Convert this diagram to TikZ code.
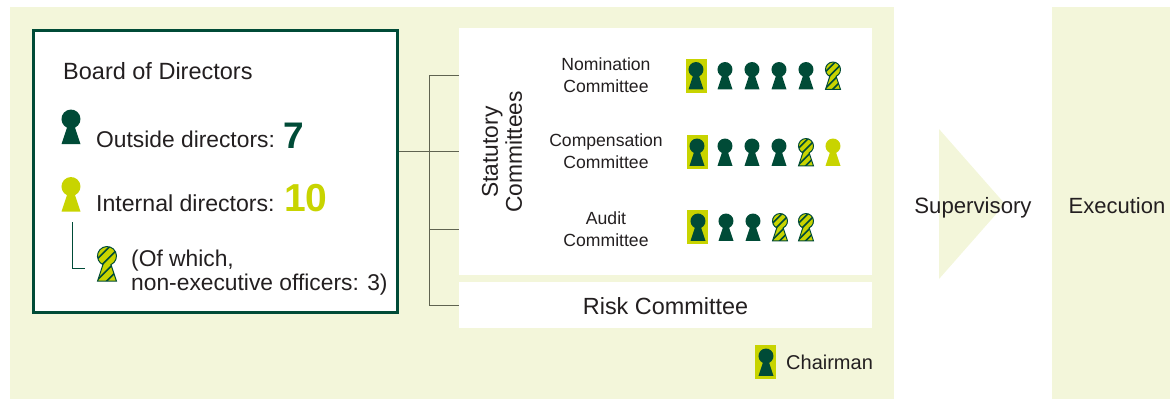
\documentclass[tikz,border=0pt]{standalone}
\usepackage{fontspec}
\setmainfont{Liberation Sans}
\usetikzlibrary{positioning}
\definecolor{paleg}{HTML}{F3F6DA}
\definecolor{darkg}{HTML}{004B37}
\definecolor{limeg}{HTML}{C8D400}
\definecolor{inkg}{HTML}{231F20}
\definecolor{busg}{HTML}{5F6350}
\tikzset{panel/.style = {fill = paleg, draw = none, inner sep = 0, anchor = north west}}
\tikzset{whitebox/.style = {fill = white, draw = none, inner sep = 0, anchor = north west}}
\tikzset{chairbox/.style = {fill = limeg, draw = none, inner sep = 0, minimum width = 21, minimum height = 34}}
\tikzset{txt/.style = {text = inkg, inner sep = 0, font = \fontsize{22.8}{24}\selectfont}}
\tikzset{smalltxt/.style = {text = inkg, inner sep = 0, align = center, font = \fontsize{17.6}{21.5}\selectfont}}
\tikzset{bus/.style = {draw = busg, line width = 0.9}}
\tikzset{keyhole/.pic = {
    \path [pic actions] (0.42, 0.91) arc [start angle = 65, end angle = -245, radius = 1]
      -- (-1, 2.65) -- (1, 2.65) -- cycle;
}}
\tikzset{outsidedir/.style = {fill = darkg}}
\tikzset{internaldir/.style = {fill = limeg}}
\tikzset{mixeddir/.style = {fill = limeg, draw = darkg, line width = 1,
    path picture = {\foreach \k in {-4, -2.9, ..., 4}
      {\draw [darkg, line width = 1.6] (-2, \k + 2) -- (2, \k - 2);}}}}
\begin{document}
\begin{tikzpicture}[x = 1pt, y = -1pt]
    \useasboundingbox (0, 0) rectangle (1170, 399);
    \node (governance) at (10, 7) [panel, minimum width = 884, minimum height = 392] {};
    \node (execpanel) at (1052, 7) [panel, minimum width = 118, minimum height = 392] {};
    \fill [paleg] (939, 129) -- (1005, 204) -- (939, 279) -- cycle;
    \node (board) at (32, 29) [anchor = north west, draw = darkg, fill = white, line width = 2.7,
      inner sep = 0, minimum width = 364, minimum height = 282] {};
    \node (statutory) at (459, 28) [whitebox, minimum width = 413, minimum height = 247] {};
    \node (risk) at (459, 282) [whitebox, minimum width = 413, minimum height = 46] {};
    % connectors
    \coordinate (joint) at (429, 151);
    \coordinate (busa) at (429, 75);
    \coordinate (busb) at (429, 229);
    \coordinate (busc) at (429, 305);
    \draw [bus] (board.east |- joint) -- (statutory.west |- joint);
    \draw [bus] (statutory.west |- busa) -- (busa) -- (busc) -- (risk.west |- busc);
    \draw [bus] (busb) -- (statutory.west |- busb);
    % board
    \node (boardtitle) at (63, 79) [txt, anchor = base west, font = \fontsize{23.5}{24}\selectfont] {Board of Directors};
    \pic [outsidedir, scale = 9.5] at (71, 119) {keyhole};
    \node (outside) at (96, 147) [txt, anchor = base west] {Outside directors:};
    \node (outsidenum) at (283, 148) [anchor = base west, inner sep = 0, text = darkg,
      font = \fontsize{37}{39}\selectfont\bfseries] {7};
    \pic [internaldir, scale = 9.5] at (71, 186.5) {keyhole};
    \node (internal) at (96, 211) [txt, anchor = base west, font = \fontsize{23.1}{24}\selectfont] {Internal directors:};
    \node (internalnum) at (284, 211) [anchor = base west, inner sep = 0, text = limeg,
      font = \fontsize{39}{39}\selectfont\bfseries] {10};
    \coordinate (subtop) at (72, 222);
    \coordinate (subend) at (85, 268);
    \draw [darkg, line width = 0.9] (subtop) |- (subend);
    \pic [mixeddir, scale = 9.5] at (107, 256) {keyhole};
    \node (ofwhich) at (131, 266) [txt, anchor = base west] {(Of which,};
    \node (nonexec) at (131, 290) [txt, anchor = base west] {non-executive officers: 3)};
    % committees
    \node (statlabel) at (502, 152) [txt, align = center, rotate = 90] {Statutory\\Committees};
    \node (nomination) at (606, 75) [smalltxt] {Nomination\\Committee};
    \node (compensation) at (606, 151) [smalltxt] {Compensation\\Committee};
    \node (audit) at (606, 229) [smalltxt] {Audit\\Committee};
    \node (risklabel) at (665.5, 306) [txt, font = \fontsize{23.4}{24}\selectfont] {Risk Committee};
    \node (chairnom) at (696.5, 75.5) [chairbox] {};
    \node (chaircomp) at (697, 152) [chairbox] {};
    \node (chairaudit) at (697.5, 227) [chairbox] {};
    \foreach \px/\kind in {696/outsidedir, 725/outsidedir, 752/outsidedir, 779/outsidedir, 806/outsidedir, 833/mixeddir}
      \pic [\kind, scale = 7.5] at (\px, 69.5) {keyhole};
    \foreach \px/\kind in {697/outsidedir, 725/outsidedir, 752/outsidedir, 779/outsidedir, 806/mixeddir, 833/internaldir}
      \pic [\kind, scale = 7.5] at (\px, 146) {keyhole};
    \foreach \px/\kind in {698/outsidedir, 726/outsidedir, 753/outsidedir, 780/mixeddir, 806/mixeddir}
      \pic [\kind, scale = 7.5] at (\px, 221) {keyhole};
    % chairman
    \node (chairkey) at (765.5, 362) [chairbox] {};
    \pic [outsidedir, scale = 7.5] at (766, 356) {keyhole};
    \node (chairman) at (786, 369) [smalltxt, anchor = base west, font = \fontsize{20}{21}\selectfont] {Chairman};
    % right side
    \node (supervisory) at (973, 208) [txt, font = \fontsize{22.2}{24}\selectfont] {Supervisory};
    \node (execution) at (1117, 206) [txt, font = \fontsize{22}{24}\selectfont] {Execution};
\end{tikzpicture}
\end{document}
